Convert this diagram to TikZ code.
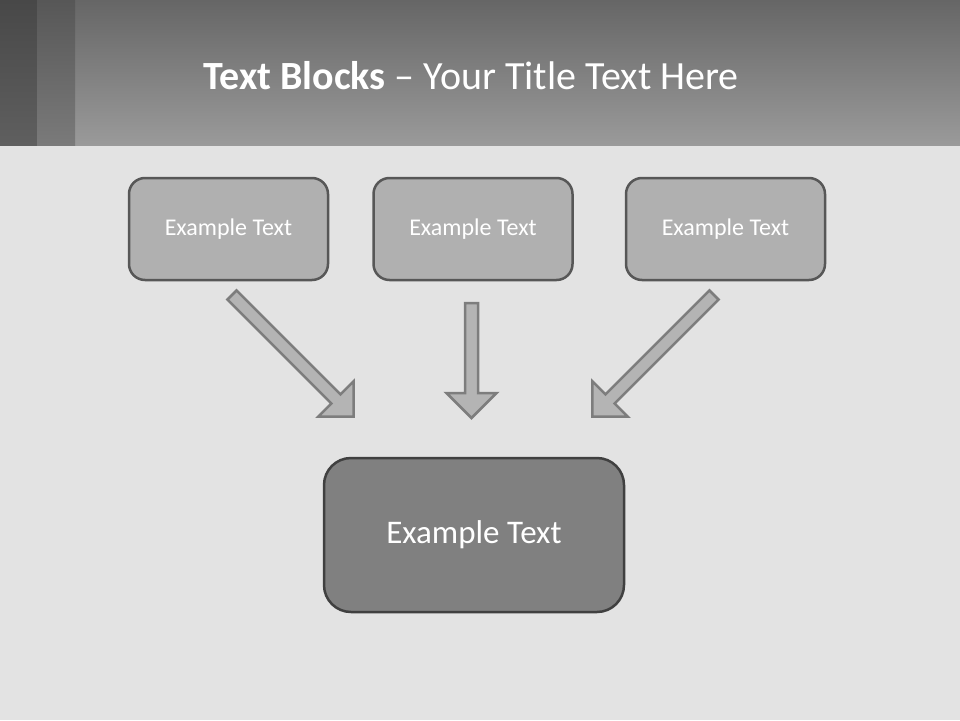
\documentclass[tikz,border=0pt]{standalone}
\usepackage{fontspec}
\setmainfont{Carlito}
\begin{document}
\begin{tikzpicture}[x=1pt,y=-1pt,
  smallbox/.style={draw=boxborder, line width=2.5pt, fill=boxfill, rounded corners=16pt,
    minimum width=199pt, minimum height=102pt, inner sep=0pt, text=white,
    font=\fontsize{24}{28}\selectfont},
  bigbox/.style={draw=bigborder, line width=2.5pt, fill=bigfill, rounded corners=27pt,
    minimum width=300pt, minimum height=154pt, inner sep=0pt, text=white,
    font=\fontsize{33}{40}\selectfont},
  blockarrowstyle/.style={draw=arrowborder, line width=2.5pt, fill=arrowfill, line join=miter}
]
\definecolor{bg}{HTML}{E3E3E3}
\definecolor{boxfill}{HTML}{B0B0B0}
\definecolor{boxborder}{HTML}{575757}
\definecolor{bigfill}{HTML}{808080}
\definecolor{bigborder}{HTML}{404040}
\definecolor{arrowfill}{HTML}{B4B4B4}
\definecolor{arrowborder}{HTML}{7D7D7D}
\useasboundingbox (0,0) rectangle (960,720);
\fill[bg] (0,0) rectangle (960,720);
% title bar
\shade[top color={rgb,255:red,102;green,102;blue,102}, bottom color={rgb,255:red,154;green,154;blue,154}] (75,0) rectangle (960,145);
\shade[top color={rgb,255:red,72;green,72;blue,72}, bottom color={rgb,255:red,95;green,95;blue,95}] (0,0) rectangle (37,145);
\shade[top color={rgb,255:red,87;green,87;blue,87}, bottom color={rgb,255:red,122;green,122;blue,122}] (37,0) rectangle (75,145);
\node[anchor=base west, inner sep=0pt, text=white, font=\fontsize{40}{48}\selectfont] (title) at (203,89) {\textbf{Text Blocks} – Your Title Text Here};
% boxes
\node[smallbox] (b1) at (228.5,229) {Example Text};
\node[smallbox] (b2) at (473,229) {Example Text};
\node[smallbox] (b3) at (725.5,229) {Example Text};
\node[bigbox] (b4) at (474,535) {Example Text};
% block arrows
\newcommand\blockarrow[3]{%
  \begin{scope}[shift={(#1)}, rotate=#2]
    \draw[blockarrowstyle] (0,-6.5) -- (#3-25,-6.5) -- (#3-25,-25) -- (#3,0) -- (#3-25,25) -- (#3-25,6.5) -- (0,6.5) -- cycle;
  \end{scope}}
\coordinate (a1) at (232,295);
\coordinate (a2) at (471.5,303);
\coordinate (a3) at (714,295);
\blockarrow{a1}{-45}{172}
\blockarrow{a2}{-90}{115}
\blockarrow{a3}{-135}{172}
\end{tikzpicture}
\end{document}
